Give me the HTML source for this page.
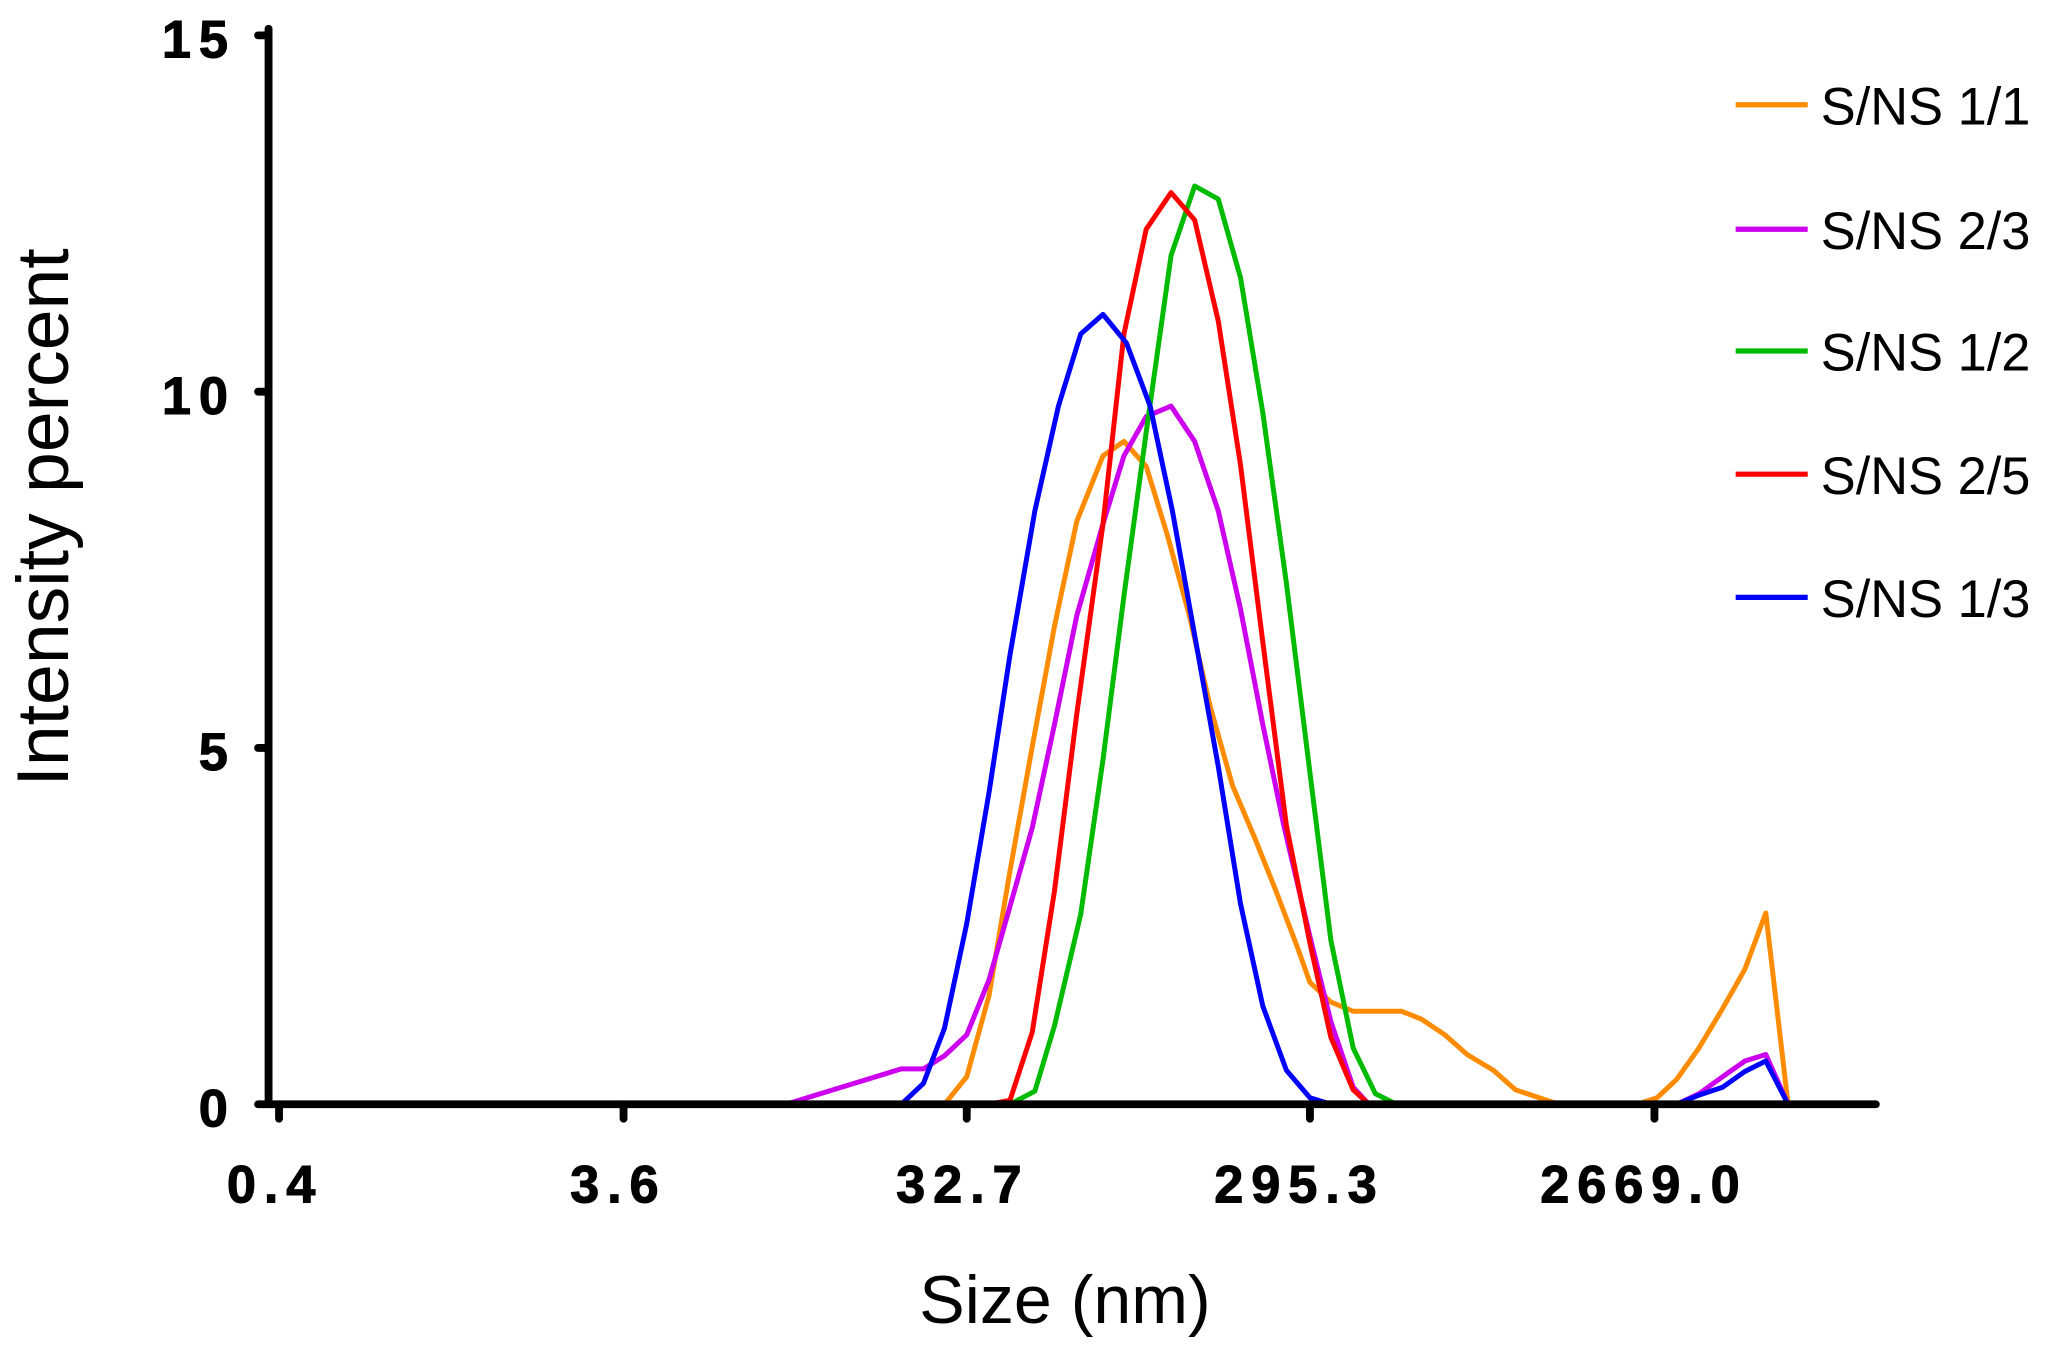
<!DOCTYPE html>
<html><head><meta charset="utf-8"><style>html,body{margin:0;padding:0;background:#fff}svg{display:block}</style></head>
<body>
<svg width="2054" height="1361" viewBox="0 0 1568 1039" xmlns="http://www.w3.org/2000/svg" font-family="Liberation Sans, sans-serif">
<g fill="none" stroke-width="3.8" stroke-linejoin="round">
<polyline stroke="#ff8c00" points="213,843 721,843 738,822 755,760 771,665 788,570 805,478 822,398 842,348 858,337 875,356 891,408 908,470 924,540 941,600 958,640 974,680 990,722 1000,750 1016,765 1033,772 1050,772 1070,772 1085,778 1103,790 1120,805 1140,817 1157,832 1175,838 1190,843 1250,843 1265,838 1280,824 1297,800 1315,770 1332,740 1348,697 1365,843 1420,843"/>
<polyline stroke="#cc00ee" points="213,843 600,843 688,816 705,816 721,806 738,790 755,748 771,692 788,632 805,553 822,470 842,400 858,348 875,318 894,310 912,337 930,390 947,465 964,553 980,630 1000,715 1016,780 1033,830 1045,843 1280,843 1297,835 1315,822 1332,810 1348,805 1365,843 1420,843"/>
<polyline stroke="#00bb00" points="771,843 790,833 805,783 825,698 842,580 858,455 875,330 894,195 912,142 930,152 947,212 964,315 982,445 1000,590 1016,718 1033,800 1050,835 1066,843"/>
<polyline stroke="#ff0000" points="213,843 755,843 771,840 788,788 805,680 822,545 842,400 858,255 875,175 894,147 912,168 930,245 947,355 964,490 982,630 1000,720 1016,792 1033,832 1045,843 1420,843"/>
<polyline stroke="#0000ff" points="213,843 688,843 705,827 721,785 738,705 755,605 771,500 790,390 808,310 825,255 842,240 860,262 878,310 895,390 912,485 930,585 947,690 964,768 982,817 1000,838 1016,843 1280,843 1297,836 1315,830 1332,818 1348,810 1365,843 1420,843"/>
</g>
<g stroke="#000" stroke-width="6" stroke-linecap="round">
<line x1="205" y1="22" x2="205" y2="843"/>
<line x1="205" y1="843" x2="1432" y2="843"/>
<line x1="197" y1="27" x2="205" y2="27"/>
<line x1="197" y1="299" x2="205" y2="299"/>
<line x1="197" y1="571" x2="205" y2="571"/>
<line x1="197" y1="843" x2="205" y2="843"/>
<line x1="213" y1="843" x2="213" y2="854"/>
<line x1="476" y1="843" x2="476" y2="854"/>
<line x1="738" y1="843" x2="738" y2="854"/>
<line x1="1000" y1="843" x2="1000" y2="854"/>
<line x1="1263" y1="843" x2="1263" y2="854"/>
</g>
<g font-weight="bold" font-size="40" fill="#000" letter-spacing="6" stroke="#000" stroke-width="0.8">
<text x="180" y="44" text-anchor="end">15</text>
<text x="180" y="316" text-anchor="end">10</text>
<text x="180" y="588" text-anchor="end">5</text>
<text x="180" y="860" text-anchor="end">0</text>
<text x="210" y="918" text-anchor="middle">0.4</text>
<text x="472" y="918" text-anchor="middle">3.6</text>
<text x="735" y="918" text-anchor="middle">32.7</text>
<text x="992" y="918" text-anchor="middle">295.3</text>
<text x="1255" y="918" text-anchor="middle">2669.0</text>
</g>
<text x="813" y="1010" text-anchor="middle" font-size="52">Size (nm)</text>
<text transform="translate(52,395) rotate(-90)" text-anchor="middle" font-size="56">Intensity percent</text>
<g stroke-width="4">
<line x1="1325" y1="80" x2="1380" y2="80" stroke="#ff8c00"/>
<line x1="1325" y1="175" x2="1380" y2="175" stroke="#cc00ee"/>
<line x1="1325" y1="268" x2="1380" y2="268" stroke="#00bb00"/>
<line x1="1325" y1="362" x2="1380" y2="362" stroke="#ff0000"/>
<line x1="1325" y1="456" x2="1380" y2="456" stroke="#0000ff"/>
</g>
<g font-size="40" fill="#000">
<text x="1390" y="95">S/NS 1/1</text>
<text x="1390" y="190">S/NS 2/3</text>
<text x="1390" y="283">S/NS 1/2</text>
<text x="1390" y="377">S/NS 2/5</text>
<text x="1390" y="471">S/NS 1/3</text>
</g>
</svg>
</body></html>
